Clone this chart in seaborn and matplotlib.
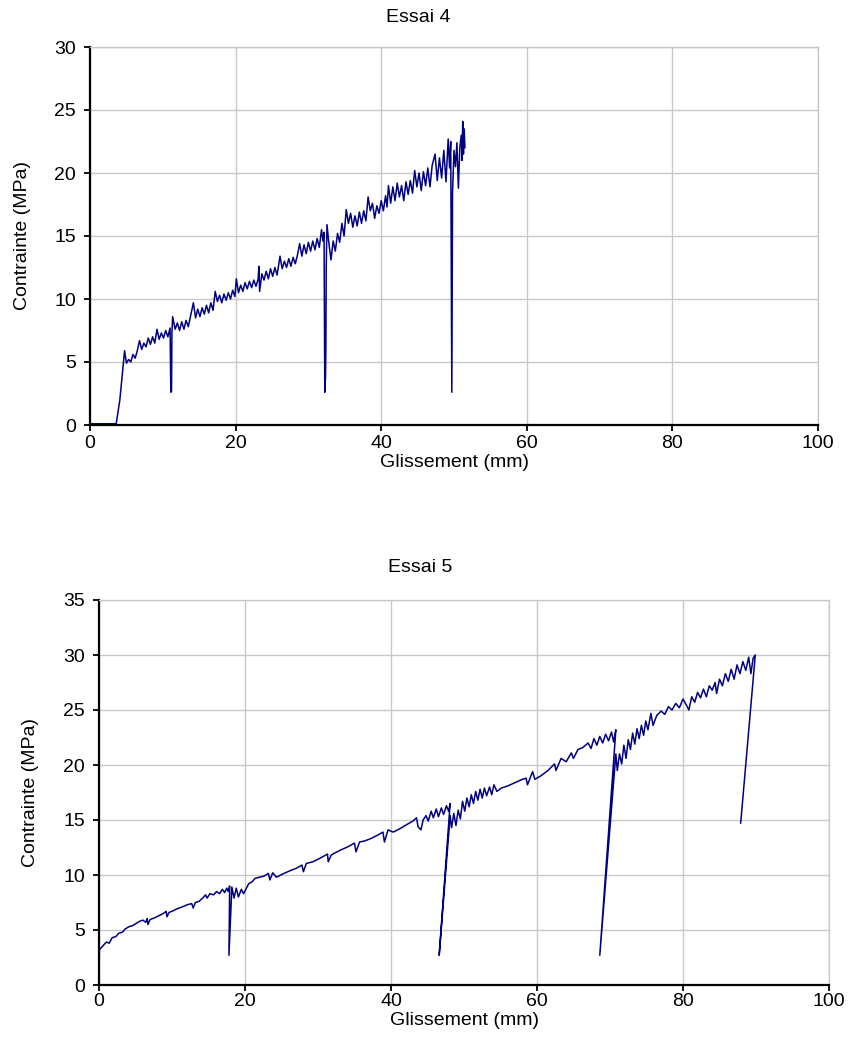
import matplotlib
matplotlib.use("Agg")
import matplotlib.pyplot as plt
import seaborn as sns
import pandas as pd

# ---------------- data ----------------
essai4_x = [0.0, 1.0, 2.0, 3.0, 3.6, 4.1, 4.5, 4.75, 5.0, 5.3, 5.6, 5.9, 6.2, 6.5, 6.8, 7.1, 7.4, 7.7,
            8.0, 8.3, 8.6, 8.9, 9.2, 9.5, 9.8, 10.1, 10.4, 10.7, 11.0, 11.1, 11.2, 11.25, 11.35, 11.7,
            12.0, 12.3, 12.6, 12.9, 13.2, 13.5, 13.8, 14.2, 14.5, 14.8, 15.1, 15.4, 15.7, 16.0, 16.3,
            16.6, 16.9, 17.2, 17.5, 17.8, 18.1, 18.4, 18.7, 19.0, 19.3, 19.6, 19.9, 20.1, 20.4, 20.7,
            21.0, 21.3, 21.6, 21.9, 22.2, 22.5, 22.8, 23.1, 23.2, 23.3, 23.6, 23.9, 24.2, 24.5, 24.8,
            25.1, 25.4, 25.7, 26.1, 26.4, 26.7, 27.0, 27.3, 27.6, 27.9, 28.2, 28.5, 28.8, 29.1, 29.4,
            29.7, 30.0, 30.3, 30.6, 30.9, 31.2, 31.5, 31.8, 32.0, 32.15, 32.2, 32.25, 32.35, 32.4,
            32.45, 32.55, 32.8, 33.1, 33.4, 33.7, 34.0, 34.3, 34.6, 34.9, 35.2, 35.5, 35.8, 36.1, 36.4,
            36.7, 37.0, 37.3, 37.6, 37.9, 38.2, 38.5, 38.8, 39.1, 39.4, 39.7, 40.0, 40.3, 40.6, 40.8,
            41.0, 41.3, 41.6, 41.9, 42.2, 42.5, 42.8, 43.1, 43.4, 43.7, 44.0, 44.3, 44.6, 44.9, 45.2,
            45.5, 45.8, 46.1, 46.4, 46.7, 47.0, 47.4, 47.7, 48.0, 48.3, 48.6, 48.9, 49.2, 49.4, 49.55,
            49.7, 49.8, 50.0, 50.2, 50.4, 50.6, 50.8, 51.0, 51.1, 51.2, 51.3, 51.4, 51.5]
essai4_y = [0.1, 0.1, 0.1, 0.1, 0.1, 2.0, 4.4, 5.9, 4.9, 5.2, 5.0, 5.6, 5.3, 5.9, 6.7, 6.0, 6.5, 6.2,
            6.9, 6.4, 7.0, 6.5, 7.6, 6.8, 7.3, 6.9, 7.5, 7.0, 7.7, 2.6, 2.7, 7.2, 8.6, 7.6,
            8.1, 7.5, 8.2, 7.6, 8.3, 7.8, 8.6, 9.7, 8.5, 9.2, 8.6, 9.3, 8.8, 9.5, 8.9,
            9.7, 9.1, 10.6, 9.8, 10.3, 9.7, 10.4, 9.9, 10.5, 10.0, 10.7, 10.2, 11.6, 10.5, 11.1,
            10.6, 11.3, 10.8, 11.4, 10.9, 11.5, 11.0, 11.6, 12.6, 10.6, 12.0, 11.5, 12.2, 11.6, 12.4,
            11.8, 12.5, 11.9, 13.4, 12.4, 13.0, 12.5, 13.2, 12.6, 13.3, 12.8, 13.5, 14.4, 13.4, 14.3,
            13.6, 14.5, 13.8, 14.6, 13.9, 14.8, 14.1, 15.5, 14.6, 15.3, 9.0, 2.6, 3.8, 6.3,
            12.6, 15.9, 14.5, 13.1, 14.6, 13.8, 15.2, 14.5, 16.0, 15.0, 17.1, 16.0, 16.8, 15.7, 16.6,
            15.8, 16.9, 16.0, 17.0, 16.2, 18.1, 17.0, 17.6, 16.4, 17.4, 16.8, 17.8, 17.0, 18.2, 17.3,
            19.0, 17.6, 18.9, 17.8, 19.2, 18.1, 19.0, 17.8, 19.3, 18.3, 19.4, 18.4, 20.2, 18.9, 20.0,
            18.6, 20.1, 19.0, 20.4, 18.9, 20.6, 21.5, 19.4, 21.2, 19.6, 21.8, 19.3, 22.7, 20.4, 22.5,
            2.6, 18.5, 21.8, 20.5, 22.4, 18.8, 22.0, 23.0, 21.0, 24.1, 21.5, 23.5, 22.0]

essai5_x = [0.0, 0.05, 0.6, 1.0, 1.4, 1.8, 2.3, 2.7, 3.2, 3.6, 4.1, 4.6, 5.1, 5.6, 6.0, 6.4, 6.6, 6.7,
            7.0, 7.6, 8.2, 8.8, 9.2, 9.3, 9.6, 10.0, 10.6, 11.4, 12.1, 12.7, 12.9, 13.2, 13.7, 14.2,
            14.6, 14.8, 15.2, 15.7, 16.1, 16.5, 16.9, 17.2, 17.5, 17.7, 17.9, 17.8, 18.2, 18.5, 18.8,
            19.1, 19.5, 19.8, 20.5, 21.0, 21.4, 22.0, 22.6, 23.2, 23.4, 23.8, 24.3, 25.2, 26.2, 27.0,
            27.8, 28.0, 28.4, 29.3, 30.2, 31.3, 31.4, 31.8, 32.3, 33.2, 34.2, 35.0, 35.2, 35.7, 36.4,
            37.2, 38.1, 38.9, 39.1, 39.6, 40.3, 41.2, 42.2, 43.0, 43.5, 43.7, 44.1, 44.4, 44.8, 45.1,
            45.5, 45.8, 46.2, 46.5, 46.9, 47.2, 47.6, 47.9, 48.1, 46.6, 48.1, 48.3, 48.6, 48.9, 49.2,
            49.5, 49.8, 50.1, 50.4, 50.7, 51.0, 51.3, 51.6, 51.9, 52.2, 52.5, 52.8, 53.1, 53.5, 53.8,
            54.1, 54.5, 55.1, 56.0, 57.0, 58.0, 58.5, 58.7, 59.4, 59.7, 60.5, 61.5, 62.4, 62.6, 63.3,
            64.0, 64.7, 65.0, 65.6, 66.3, 67.0, 67.4, 67.8, 68.2, 68.6, 69.0, 69.4, 69.8, 70.2, 70.5,
            70.8, 68.6, 70.8, 71.0, 71.3, 71.6, 71.9, 72.2, 72.5, 72.8, 73.1, 73.4, 73.7, 74.0, 74.3,
            74.6, 74.9, 75.2, 75.6, 75.9, 76.4, 77.0, 77.5, 78.0, 78.5, 79.0, 79.5, 80.0, 80.5, 80.8,
            81.2, 81.6, 82.0, 82.4, 82.8, 83.2, 83.6, 84.0, 84.4, 84.6, 85.0, 85.4, 85.8, 86.2, 86.6,
            87.0, 87.4, 87.8, 88.2, 88.6, 89.0, 89.3, 89.6, 89.9, 87.9]
essai5_y = [0.3, 3.2, 3.6, 3.9, 3.8, 4.3, 4.4, 4.7, 4.8, 5.1, 5.3, 5.4, 5.6, 5.8, 5.9, 5.7, 6.05, 5.5,
            5.95, 6.1, 6.3, 6.5, 6.7, 6.2, 6.6, 6.7, 6.9, 7.1, 7.3, 7.4, 7.0, 7.5, 7.6, 7.9,
            8.2, 7.9, 8.3, 8.2, 8.5, 8.3, 8.7, 8.4, 8.8, 8.5, 9.0, 2.7, 8.9, 7.9, 8.8,
            8.0, 8.7, 8.3, 9.2, 9.4, 9.7, 9.8, 9.9, 10.15, 9.55, 10.2, 9.8, 10.1, 10.4, 10.6,
            10.9, 10.3, 11.05, 11.2, 11.5, 11.9, 11.2, 11.8, 12.0, 12.3, 12.6, 12.9, 12.1, 13.0, 13.1,
            13.3, 13.6, 13.9, 13.0, 14.1, 13.9, 14.2, 14.6, 14.9, 15.2, 14.4, 14.1, 15.0, 15.4, 14.9,
            15.8, 15.2, 16.0, 15.3, 16.1, 15.5, 16.3, 15.8, 16.5, 2.7, 15.4, 14.3, 15.6, 14.5, 15.9,
            15.1, 16.7, 15.8, 17.0, 16.2, 17.3, 16.5, 17.6, 16.8, 17.8, 17.0, 17.9, 17.2, 18.0, 17.3,
            18.2, 17.6, 17.9, 18.1, 18.4, 18.7, 18.8, 18.2, 19.4, 18.7, 19.0, 19.5, 20.1, 19.5, 20.6,
            20.3, 21.1, 20.6, 21.4, 21.6, 22.0, 21.5, 22.4, 21.8, 22.6, 22.0, 22.8, 22.2, 23.0, 22.1,
            23.2, 2.7, 21.0, 19.5, 21.0, 20.1, 21.8, 20.6, 22.3, 21.4, 22.9, 21.9, 23.3, 22.4, 23.6,
            22.7, 24.0, 23.2, 24.7, 23.6, 24.5, 24.9, 24.6, 25.3, 25.0, 25.6, 25.2, 26.0, 25.4, 25.0,
            26.2, 25.7, 26.6, 26.1, 26.9, 26.2, 27.2, 26.8, 27.5, 26.5, 27.8, 27.2, 28.3, 27.6, 28.7,
            27.8, 29.1, 28.3, 29.4, 28.6, 29.8, 28.3, 29.7, 30.0, 14.7]

titles = ["Essai 4", "Essai 5"]
x_label = "Glissement (mm)"
y_label = "Contrainte (MPa)"
x_ticks = [0, 20, 40, 60, 80, 100]
y_ticks_4 = [0, 5, 10, 15, 20, 25, 30]
y_ticks_5 = [0, 5, 10, 15, 20, 25, 30, 35]

# ---------------- style ----------------
sns.set_theme(style="whitegrid")
plt.rcParams["font.family"] = ["Liberation Sans", "DejaVu Sans"]
FS = 14
LINE = "#000080"
GRID = "#c8c8c8"

fig = plt.figure(figsize=(8.57, 10.54), dpi=100)
W, H = 857, 1054

def make_axes(l, r, t, b):
    return fig.add_axes([l / W, 1 - b / H, (r - l) / W, (b - t) / H])

ax4 = make_axes(90, 818, 47, 425)
ax5 = make_axes(99, 829, 600, 985)

panels = [
    (ax4, essai4_x, essai4_y, y_ticks_4, 30, -0.098, -0.093, 3),
    (ax5, essai5_x, essai5_y, y_ticks_5, 35, -0.093, -0.0945, 1.5),
]

for ax, xs, ys, yt, ymax, xlab_y, ylab_x, xpad in panels:
    df = pd.DataFrame({"x": xs, "y": ys})
    sns.lineplot(data=df, x="x", y="y", ax=ax, sort=False, estimator=None,
                 color=LINE, linewidth=1.1)
    ax.set_xlim(0, 100)
    ax.set_ylim(0, ymax)
    ax.set_xticks(x_ticks)
    ax.set_yticks(yt)
    ax.set_facecolor("white")
    ax.grid(True, color=GRID, linewidth=1.0)
    for side in ["left", "bottom"]:
        ax.spines[side].set_color("black")
        ax.spines[side].set_linewidth(1.6)
    for side in ["top", "right"]:
        ax.spines[side].set_color(GRID)
        ax.spines[side].set_linewidth(1.0)
    ax.tick_params(axis="both", which="major", direction="out", length=4,
                   width=1.3, color="black", labelsize=FS, labelcolor="black",
                   left=True, bottom=True)
    ax.tick_params(axis="y", pad=6)
    ax.tick_params(axis="x", pad=xpad)
    ax.set_xlabel(x_label, fontsize=FS, color="black")
    ax.set_ylabel(y_label, fontsize=FS, color="black")
    ax.xaxis.set_label_coords(0.5, xlab_y)
    ax.yaxis.set_label_coords(ylab_x, 0.5)
    ax.xaxis.label.set_va("center")
    ax.yaxis.label.set_va("center")

fig.text(418 / W, 1 - 17 / H, titles[0], ha="center", va="center", fontsize=FS, color="black")
fig.text(420 / W, 1 - 567 / H, titles[1], ha="center", va="center", fontsize=FS, color="black")

fig.savefig("out.png", dpi=100, facecolor="white")
